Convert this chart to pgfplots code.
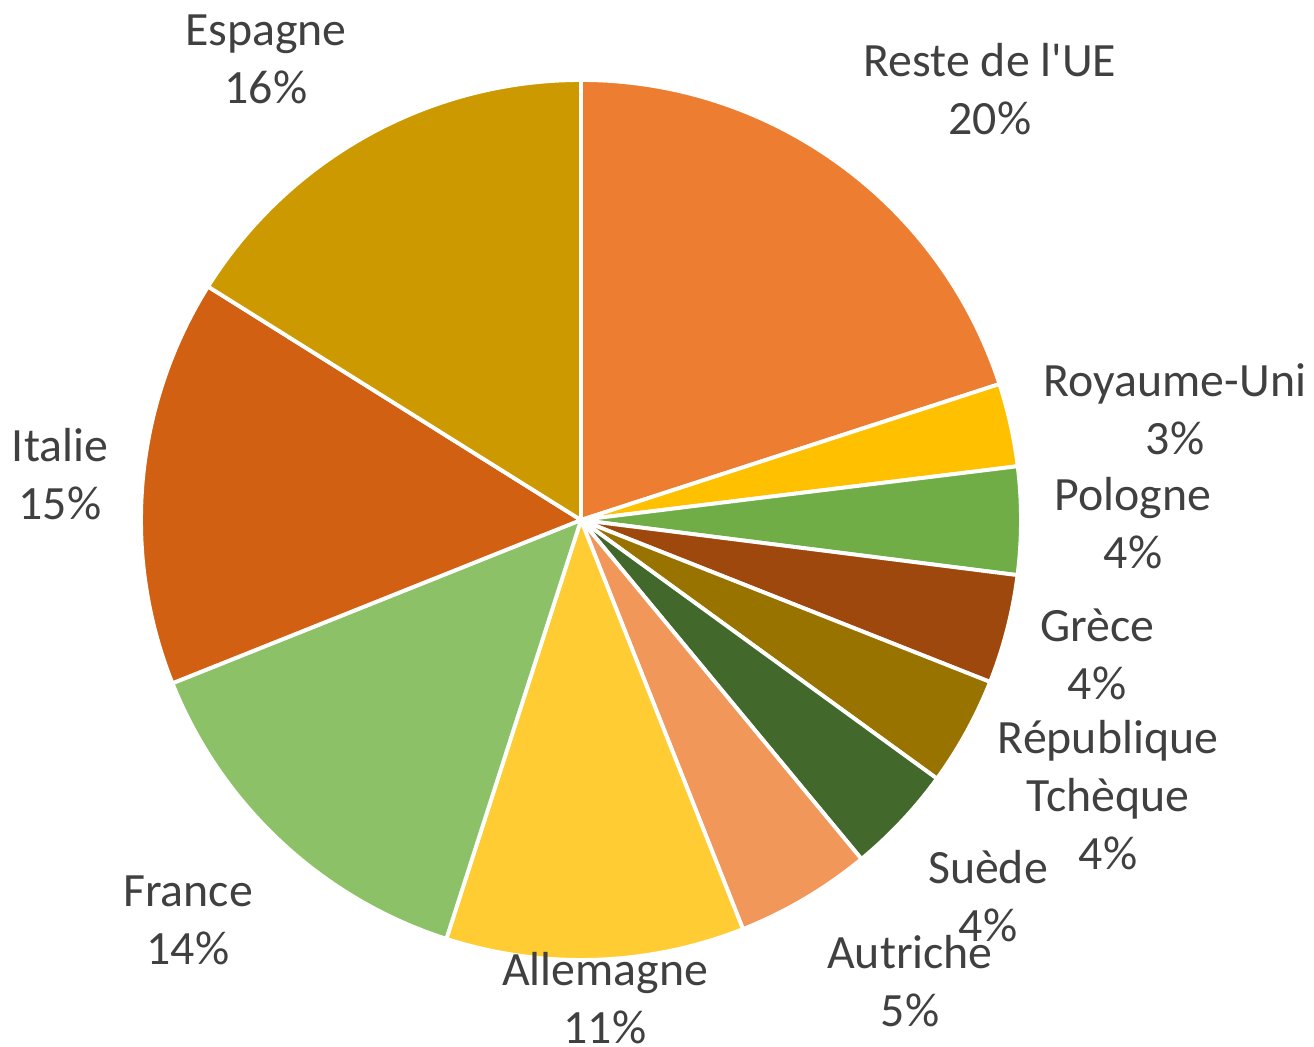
\documentclass[border=0pt]{standalone}
\usepackage{pgfplots}
\pgfplotsset{compat=1.18}
\usepackage{pgfplotstable}
\usepackage{fontspec}
\setmainfont{Carlito}
\definecolor{c0}{HTML}{ED7D31}
\definecolor{c1}{HTML}{FFC000}
\definecolor{c2}{HTML}{70AD47}
\definecolor{c3}{HTML}{9E480E}
\definecolor{c4}{HTML}{997300}
\definecolor{c5}{HTML}{43682B}
\definecolor{c6}{HTML}{F1975A}
\definecolor{c7}{HTML}{FFCD33}
\definecolor{c8}{HTML}{8CC168}
\definecolor{c9}{HTML}{D26012}
\definecolor{c10}{HTML}{CC9A00}
\definecolor{txt}{HTML}{404040}
\tikzset{lab/.style={font=\fontsize{13.6}{16.5}\selectfont, text=txt, align=center, inner sep=0pt}}
\pgfplotstableread[col sep=comma]{
country,value
Reste de l UE,20.0
Royaume-Uni,3.05
Pologne,3.95
Grece,4.0
Republique Tcheque,4.0
Suede,4.0
Autriche,5.0
Allemagne,10.95
France,14.0
Italie,14.95
Espagne,16.1
}\piedata
\pgfplotstablecreatecol[create col/expr accum={\pgfmathaccuma + \thisrow{value}}{0}]{cum}\piedata
\begin{document}
\begin{tikzpicture}
\begin{axis}[x=1cm, y=1cm, xmin=-5.81, xmax=7.33, ymin=-5.26, ymax=5.20,
  hide axis, clip=false]
\path (axis cs:-5.81,-5.26) rectangle (axis cs:7.33,5.20);
\pgfplotsinvokeforeach{0,...,10}{
  \pgfplotstablegetelem{#1}{cum}\of\piedata
  \pgfmathsetmacro\b{90-3.6*\pgfplotsretval}
  \pgfplotstablegetelem{#1}{value}\of\piedata
  \pgfmathsetmacro\a{\b+3.6*\pgfplotsretval}
  \pgfmathsetmacro\xa{4.4*cos(\a)}
  \pgfmathsetmacro\ya{4.4*sin(\a)}
  \edef\temp{\noexpand\fill[c#1, draw=white, line width=1.1pt, line join=round] (axis cs:0,0) -- (axis cs:\xa,\ya) arc[start angle=\a, end angle=\b, radius=4.4cm] -- cycle;}
  \temp
}
\node[lab] at (axis cs:4.09,4.31) {Reste de l\textquotesingle UE\\20\%};
\node[lab] at (axis cs:5.94,1.105) {Royaume-Uni\\3\%};
\node[lab] at (axis cs:5.52,-0.035) {Pologne\\4\%};
\node[lab] at (axis cs:5.16,-1.34) {Grèce\\4\%};
\node[lab] at (axis cs:5.27,-2.75) {République\\Tchèque\\4\%};
\node[lab] at (axis cs:4.07,-3.765) {Suède\\4\%};
\node[lab] at (axis cs:3.29,-4.61) {Autriche\\5\%};
\node[lab] at (axis cs:0.24,-4.785) {Allemagne\\11\%};
\node[lab] at (axis cs:-3.93,-4.00) {France\\14\%};
\node[lab] at (axis cs:-5.21,0.46) {Italie\\15\%};
\node[lab] at (axis cs:-3.15,4.61) {Espagne\\16\%};
\end{axis}
\end{tikzpicture}
\end{document}
